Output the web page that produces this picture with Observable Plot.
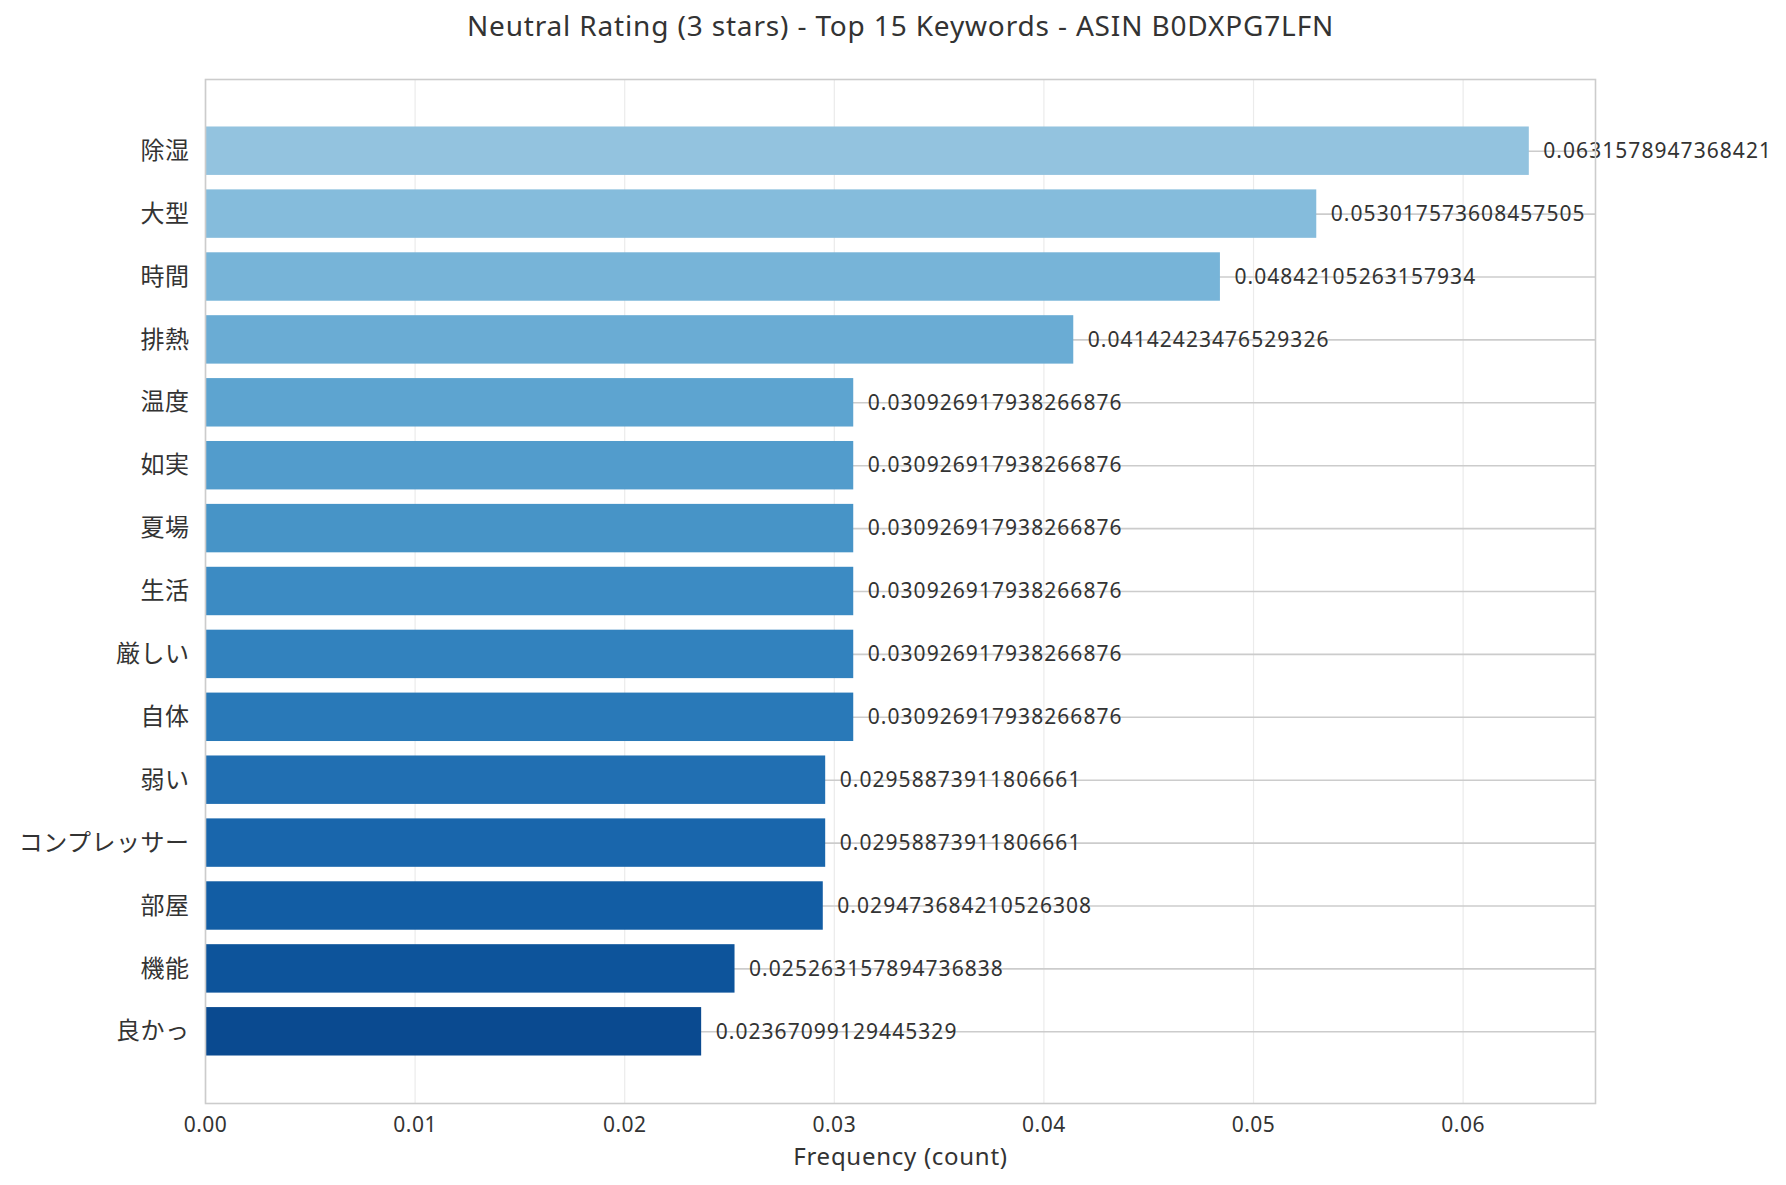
<!DOCTYPE html>
<html>
<head>
<meta charset="utf-8">
<script src="https://cdn.jsdelivr.net/npm/d3@7"></script>
<script src="https://cdn.jsdelivr.net/npm/@observablehq/plot@0.6"></script>
<style>
  html, body { margin: 0; padding: 0; background: #fff; }
  #chart svg { display: block; }
</style>
</head>
<body>
<div id="chart"></div>
<script>
const title = "Neutral Rating (3 stars) - Top 15 Keywords - ASIN B0DXPG7LFN";
const xLabel = "Frequency (count)";
const keywords = ["除湿","大型","時間","排熱","温度","如実","夏場","生活","厳しい","自体","弱い","コンプレッサー","部屋","機能","良かっ"];
const values = [
  0.0631578947368421, 0.053017573608457505, 0.04842105263157934, 0.04142423476529326,
  0.030926917938266876, 0.030926917938266876, 0.030926917938266876, 0.030926917938266876,
  0.030926917938266876, 0.030926917938266876, 0.02958873911806661, 0.02958873911806661,
  0.029473684210526308, 0.025263157894736838, 0.02367099129445329
];
const xTicks = [0, 0.01, 0.02, 0.03, 0.04, 0.05, 0.06];

const data = keywords.map((k, i) => ({
  keyword: k,
  value: values[i],
  label: String(values[i]),
  color: d3.interpolateBlues(0.4 + i * 0.5 / (keywords.length - 1))
}));

const font = "'Noto Sans', 'Noto Sans CJK JP', sans-serif";
const xMax = d3.max(values) * 1.05;

const chart = Plot.plot({
  width: 1786,
  height: 1185,
  marginLeft: 205,
  marginRight: 191,
  marginTop: 79,
  marginBottom: 82,
  style: { fontFamily: font, background: "#fff", color: "#333", letterSpacing: "0.05em" },
  x: { domain: [0, xMax], ticks: xTicks, tickFormat: d3.format(".2f"), label: null },
  y: { domain: keywords, paddingInner: 0.23, paddingOuter: 0.755, round: false, label: null },
  marks: [
    Plot.gridX(xTicks, { stroke: "#ebebeb", strokeOpacity: 1, strokeWidth: 1.2 }),
    Plot.gridY(keywords, { stroke: "#cccccc", strokeOpacity: 1, strokeWidth: 1.6 }),
    Plot.barX(data, { x: "value", y: "keyword", fill: "color" }),
    Plot.text(data, { x: "value", y: "keyword", text: "label", textAnchor: "start", dx: 14, fontSize: 21, fill: "#333" }),
    Plot.frame({ stroke: "#cccccc", strokeWidth: 1.6 }),
    Plot.axisX(xTicks, { tickSize: 0, tickPadding: 14, fontSize: 21, fill: "#333", tickFormat: d3.format(".2f"), label: null }),
    Plot.axisY({ tickSize: 0, tickPadding: 16, fontSize: 24, fill: "#333", label: null }),
    Plot.text([xLabel], { frameAnchor: "bottom", lineAnchor: "middle", dy: 54, fontSize: 24, fill: "#333" }),
    Plot.text([title], { frameAnchor: "top", lineAnchor: "middle", dy: -52, fontSize: 28, fill: "#333" })
  ]
});

const valueLabels = new Set(data.map(d => d.label));
d3.select(chart).selectAll("text").each(function() {
  const t = this.textContent;
  if (t === title) this.style.letterSpacing = "0.03em";
  else if (t === xLabel) this.style.letterSpacing = "0.03em";
  else if (valueLabels.has(t)) this.style.letterSpacing = "0.05em";
});
document.getElementById("chart").appendChild(chart);
</script>
</body>
</html>
